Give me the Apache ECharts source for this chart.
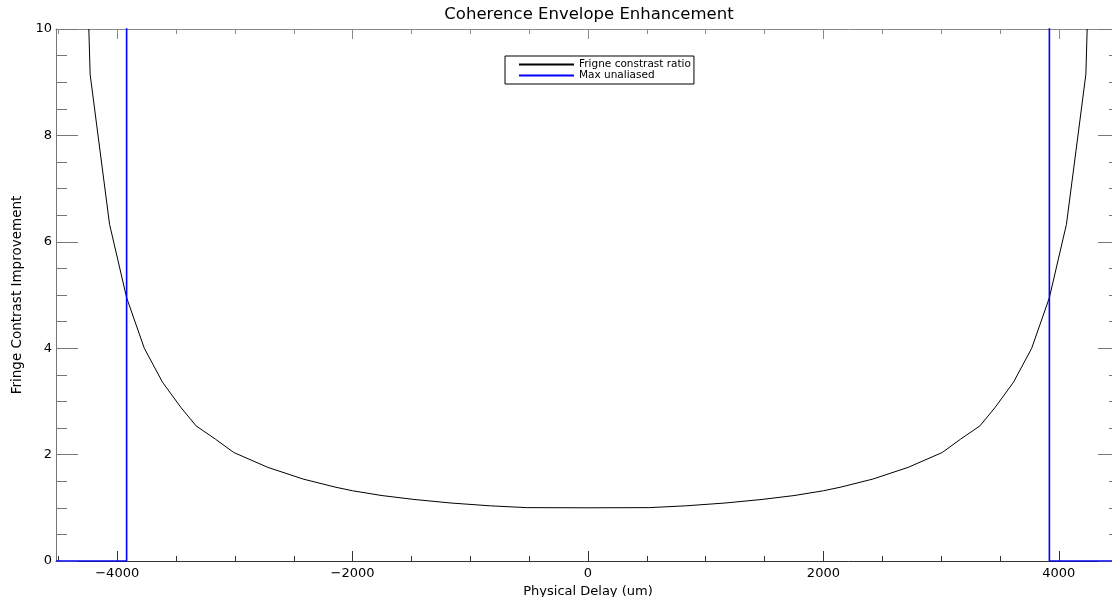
<!DOCTYPE html>
<html>
<head>
<meta charset="utf-8">
<script src="https://cdn.jsdelivr.net/npm/echarts@6/dist/echarts.min.js"></script>
<style>
  html, body { margin: 0; padding: 0; background: #fff; }
  #chart { width: 1112px; height: 597px; }
</style>
</head>
<body>
<div id="chart"></div>
<script>
// Physical delay samples (um) and the fringe contrast improvement at each
const delayUm = [-4241, -4230, -4170, -4065, -3920, -3770, -3615, -3460, -3330, -3165, -3010,
  -2720, -2420, -2150, -2000, -1750, -1470, -1165, -830, -520, 0,
  520, 830, 1165, 1470, 1750, 2000, 2150, 2420, 2720, 3010,
  3165, 3330, 3460, 3615, 3770, 3920, 4065, 4170, 4230, 4241];
const contrastRatio = [10.0, 9.15, 8.12, 6.33, 4.95, 4.0, 3.36, 2.89, 2.54, 2.29, 2.04,
  1.76, 1.54, 1.39, 1.32, 1.23, 1.155, 1.09, 1.037, 1.003, 1.0,
  1.003, 1.037, 1.09, 1.155, 1.23, 1.32, 1.39, 1.54, 1.76, 2.04,
  2.29, 2.54, 2.89, 3.36, 4.0, 4.95, 6.33, 8.12, 9.15, 10.0];

// Unaliased window: zero outside +/-3920 um, off-scale inside
const windowDelayUm = [-4520, -3920, -3920, 3920, 3920, 4520];
const windowLevel = [0, 0, 100, 100, 0, 0];

const seriesNames = ['Frigne constrast ratio', 'Max unaliased'];
const xMajorTicks = [-4000, -2000, 0, 2000, 4000];
const xMinorTicks = [-4500, -3500, -3000, -2500, -1500, -1000, -500,
  500, 1000, 1500, 2500, 3000, 3500, 4500];

const X_MIN = -4520, X_MAX = 4520;
const FONT = 'DejaVu Sans';

const minusFmt = v => (v < 0 ? '\u2212' + Math.abs(v) : String(v));

function xAxisDef(position, ticks, len, color, extra) {
  return Object.assign({
    type: 'value', gridIndex: 0, position: position,
    min: X_MIN, max: X_MAX,
    axisLine: { show: true, onZero: false, lineStyle: { color: color, width: 1 } },
    axisTick: { show: true, inside: true, length: len, customValues: ticks,
      lineStyle: { color: color, width: 1 } },
    axisLabel: { show: false },
    splitLine: { show: false }
  }, extra || {});
}

function yAxisDef(position, color, showLabels, extra) {
  return Object.assign({
    type: 'value', gridIndex: 0, position: position,
    min: 0, max: 10, interval: 2,
    axisLine: { show: true, onZero: false, lineStyle: { color: color, width: 1 } },
    axisTick: { show: true, inside: true, length: 22, lineStyle: { color: color, width: 1 } },
    minorTick: { show: true, splitNumber: 4, length: 11, lineStyle: { color: color, width: 1 } },
    axisLabel: { show: showLabels, margin: 4, color: '#000', fontSize: 13, fontFamily: FONT },
    splitLine: { show: false },
    minorSplitLine: { show: false }
  }, extra || {});
}

const chart = echarts.init(document.getElementById('chart'), null, { renderer: 'canvas' });

chart.setOption({
  animation: false,
  backgroundColor: '#ffffff',
  title: {
    text: 'Coherence Envelope Enhancement',
    left: 589, top: 6, padding: 0, textAlign: 'center',
    textStyle: { fontFamily: FONT, fontSize: 16.5, fontWeight: 'normal', color: '#000' }
  },
  legend: {
    orient: 'vertical',
    left: 505, top: 56,
    padding: [3, 3, 3, 13],
    itemGap: 0, itemWidth: 55, itemHeight: 10,
    borderColor: '#000', borderWidth: 1, borderRadius: 0,
    backgroundColor: '#fff',
    itemStyle: { opacity: 0 },
    textStyle: { fontFamily: FONT, fontSize: 10.5, color: '#000' },
    data: seriesNames
  },
  grid: { left: 56, top: 29, width: 1064, height: 532, containLabel: false, outerBoundsMode: 'none' },
  xAxis: [
    xAxisDef('bottom', xMajorTicks, 10, '#333', {
      name: 'Physical Delay (um)', nameLocation: 'middle', nameGap: 19,
      nameTextStyle: { fontFamily: FONT, fontSize: 13, color: '#000' },
      axisLabel: { show: true, customValues: xMajorTicks, formatter: minusFmt, margin: 6,
        color: '#000', fontSize: 13, fontFamily: FONT }
    }),
    xAxisDef('bottom', xMinorTicks, 5, '#333', { axisLine: { show: false, onZero: false } }),
    xAxisDef('top', xMajorTicks, 10, '#888'),
    xAxisDef('top', xMinorTicks, 5, '#888', { axisLine: { show: false, onZero: false } })
  ],
  yAxis: [
    yAxisDef('left', '#777', true, {
      name: 'Fringe Contrast Improvement', nameLocation: 'middle', nameGap: 30,
      nameTextStyle: { fontFamily: FONT, fontSize: 13.5, color: '#000' }
    }),
    yAxisDef('right', '#777', false)
  ],
  series: [
    {
      name: seriesNames[0], type: 'line', xAxisIndex: 0, yAxisIndex: 0,
      symbol: 'none', smooth: false, clip: true,
      lineStyle: { color: '#000', width: 1 },
      itemStyle: { color: '#000' },
      data: delayUm.map((x, i) => [x, contrastRatio[i]]),
      z: 3
    },
    {
      name: seriesNames[1], type: 'line', xAxisIndex: 0, yAxisIndex: 0,
      symbol: 'none', smooth: false, clip: true,
      lineStyle: { color: '#0000ff', width: 1.6 },
      itemStyle: { color: '#0000ff' },
      data: windowDelayUm.map((x, i) => [x, windowLevel[i]]),
      z: 4
    }
  ]
});
</script>
</body>
</html>
